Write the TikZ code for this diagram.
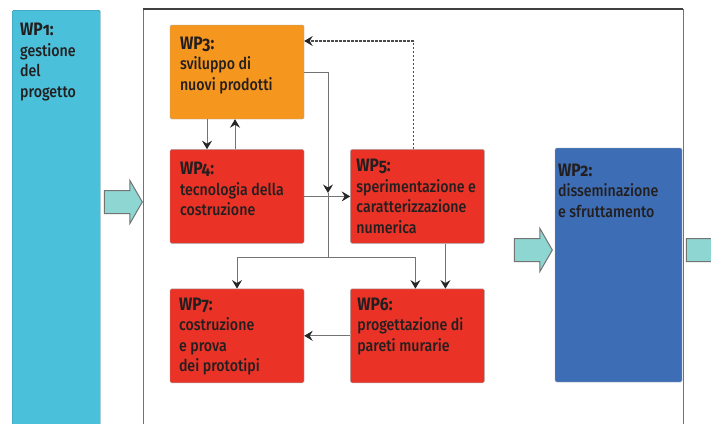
\documentclass[tikz,border=0pt]{standalone}
\usepackage{fontspec}
\setmainfont{Fira Sans}[Numbers=OldStyle,FakeStretch=0.87,
  UprightFont={Fira Sans Medium},BoldFont={Fira Sans Bold}]
\usepackage{xcolor}
\usetikzlibrary{positioning}
\usetikzlibrary{arrows.meta}
\usetikzlibrary{shapes.arrows}

\definecolor{wpcyan}{HTML}{4BC0DA}
\definecolor{wporange}{HTML}{F5961E}
\definecolor{wpred}{HTML}{EA3326}
\definecolor{wpblue}{HTML}{3D6EB5}
\definecolor{wpteal}{HTML}{8ED6D2}
\definecolor{wpink}{HTML}{231F20}
\newcommand\wplabel[1]{{\fontsize{18}{20.5}\selectfont\bfseries #1}}

\begin{document}
\begin{tikzpicture}[x=1pt,y=-1pt,>={Stealth[length=8.5pt,width=10pt,inset=3pt,black!85]},
                    node distance=30pt and 46pt,
                    wp box/.style={rectangle,rounded corners=1.5pt,draw=black!35,
                      minimum width=134pt,minimum height=94pt,inner sep=0pt},
                    wp text/.style={anchor=north west,align=left,inner sep=0pt,text=wpink,
                      font=\fontsize{16.3}{20.5}\selectfont},
                    flow/.style={black!55,line width=0.9pt},
                    big arrow/.style={single arrow,fill=wpteal,draw=black!55,line width=1pt,
                      inner sep=11pt,single arrow head extend=10pt,single arrow tip angle=120,
                      minimum height=38pt}]
\clip (0,0) rectangle (711,423);

% frame round the technical work packages
\draw[draw=black!55,line width=1pt] (143,430) |- (683,9) -- (683,430);
\draw[draw=black!75,line width=1.2pt] (143,9) -- (683,9);

% big arrows
\node[big arrow] (a1) at (120,202) {};
\node[big arrow] (a2) at (530,250) {};
\node[big arrow] (a3) at (702,250) {};

% work packages
\node[wp box,fill=wpcyan,draw=wpcyan!70!black,minimum width=88pt,minimum height=430pt,
      anchor=north west] (wp1) at (12,10) {};
\node[wp box,fill=wporange] (wp3) at (237,72) {};
\node[wp box,fill=wpred] (wp4) [below=of wp3] {};
\node[wp box,fill=wpred] (wp5) [right=of wp4] {};
\node[wp box,fill=wpred] (wp7) [below=45pt of wp4] {};
\node[wp box,fill=wpred] (wp6) [right=of wp7] {};
\node[wp box,fill=wpblue,minimum width=127pt,minimum height=234pt] (wp2) at (618.5,265) {};

\node[wp text] (wp1t) [below right=13pt and 8pt of wp1.north west]
  {\wplabel{WP1:}\\gestione\\del\\progetto};
\node[wp text] (wp3t) [below right=12pt and 10pt of wp3.north west]
  {\wplabel{WP3:}\\sviluppo di\\nuovi prodotti};
\node[wp text] (wp4t) [below right=13pt and 10pt of wp4.north west]
  {\wplabel{WP4:}\\tecnologia della\\costruzione};
\node[wp text] (wp5t) [below right=10pt and 6pt of wp5.north west]
  {\wplabel{WP5:}\\sperimentazione e\\caratterizzazione\\numerica};
\node[wp text] (wp7t) [below right=9pt and 9pt of wp7.north west]
  {\wplabel{WP7:}\\costruzione\\e prova\\dei prototipi};
\node[wp text] (wp6t) [below right=9pt and 7pt of wp6.north west]
  {\wplabel{WP6:}\\progettazione di\\pareti murarie};
\node[wp text] (wp2t) [below right=16pt and 3pt of wp2.north west]
  {\wplabel{WP2:}\\disseminazione\\e sfruttamento};

% connectors
\coordinate (m1) at (328,193);
\coordinate (j1) at (328,257);

\path[flow,->]
  ([xshift=-30pt]wp3.south) edge ([xshift=-30pt]wp4.north)
  ([xshift=-2pt]wp4.north) edge ([xshift=-2pt]wp3.south)
  (wp4) edge (wp5)
  (wp6) edge (wp7)
  ([xshift=28pt]wp5.south) edge ([xshift=28pt]wp6.north);
\draw[flow,->] (wp3.east) -| (m1);
\draw[flow] (m1) -- (j1);
\draw[flow,->] (j1) -| (wp7.north);
\draw[flow,->] (j1) -| ([xshift=-2pt]wp6.north);
\draw[flow,->,black!70,line width=1.2pt,dash pattern=on 2.5pt off 1.5pt]
  ([xshift=-4pt]wp5.north) |- ([yshift=31pt]wp3.east);

\end{tikzpicture}
\end{document}
